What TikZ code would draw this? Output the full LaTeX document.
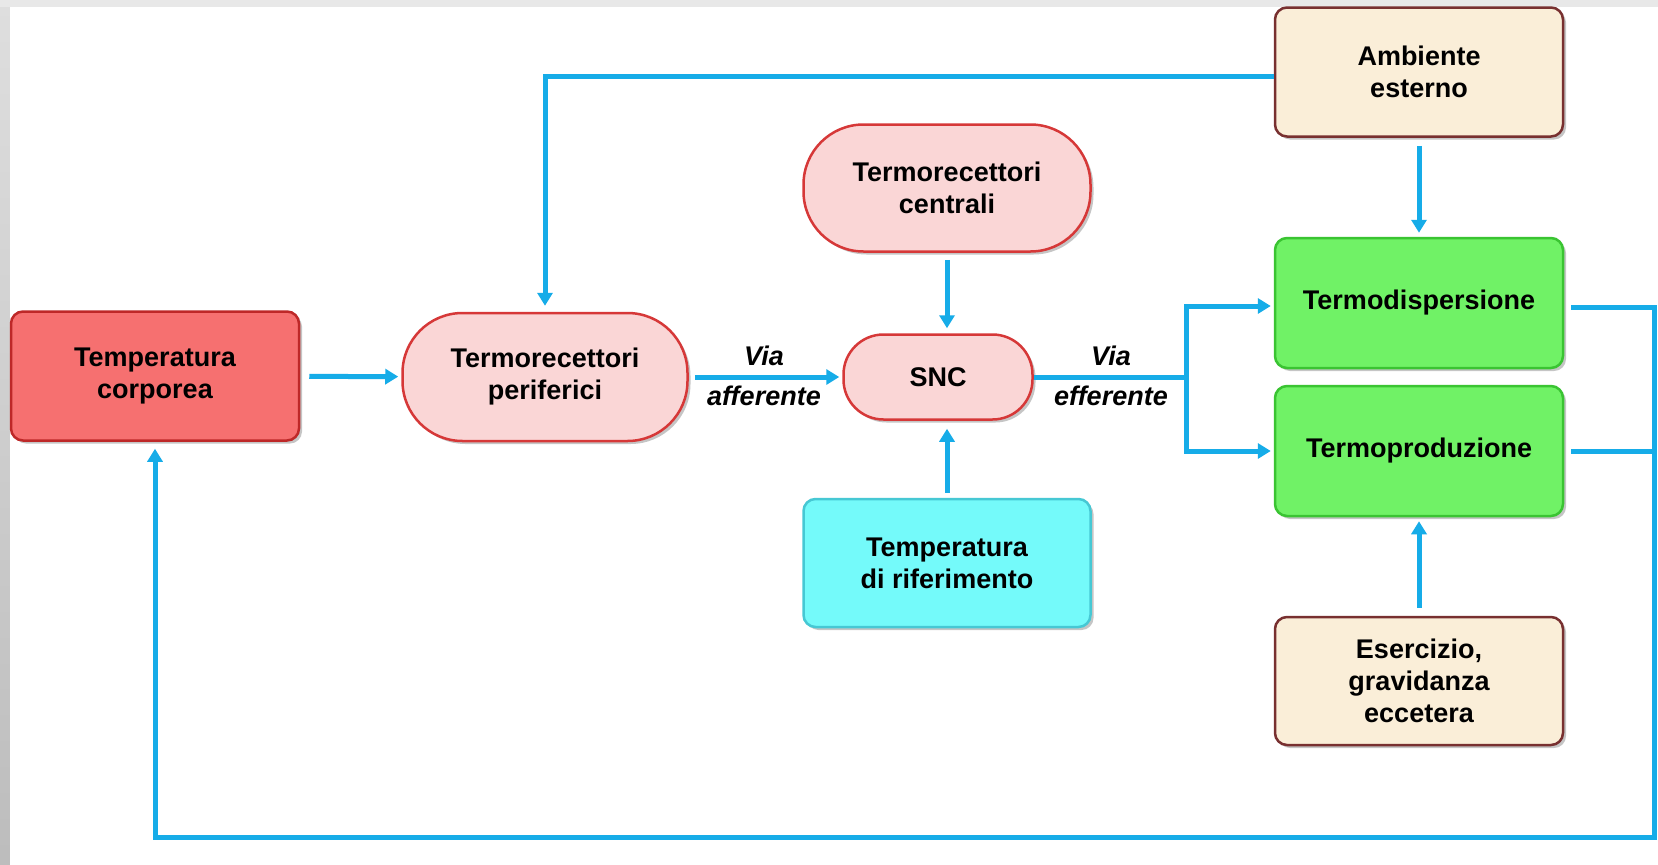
\documentclass[tikz,border=0pt]{standalone}
\usepackage{fontspec}
\setmainfont{Liberation Sans}
\usetikzlibrary{arrows.meta,shadows}

\definecolor{freccia}{RGB}{22,172,232}
\definecolor{rossoF}{RGB}{246,112,112}
\definecolor{rossoB}{RGB}{190,40,40}
\definecolor{rosaF}{RGB}{250,214,214}
\definecolor{rosaB}{RGB}{214,56,56}
\definecolor{cremaF}{RGB}{250,238,216}
\definecolor{cremaB}{RGB}{120,48,48}
\definecolor{verdeF}{RGB}{112,242,102}
\definecolor{verdeB}{RGB}{58,196,50}
\definecolor{cianoF}{RGB}{116,250,250}
\definecolor{cianoB}{RGB}{70,200,212}

\tikzset{
  box/.style={draw, line width=2.5pt, rounded corners=12pt, inner sep=0pt,
    minimum width=288pt, minimum height=129pt, align=center,
    font=\fontsize{27}{32}\selectfont\bfseries,
    drop shadow={shadow xshift=3pt, shadow yshift=-3pt, opacity=0.45}},
  pill/.style={box, rounded corners=60pt},
  lbl/.style={font=\fontsize{27}{32}\selectfont\bfseries\itshape, inner sep=0pt},
  conn/.style={draw=freccia, line width=5pt},
  arr/.style={conn, -{Triangle[length=13pt,width=15pt]}}
}

\begin{document}
\begin{tikzpicture}[x=1pt,y=-1pt]
\useasboundingbox (0,0) rectangle (1658,865);
\fill[black!9] (0,0) rectangle (1658,865);
\shade[top color=black!13, bottom color=black!26] (0,7) rectangle (10,865);
\fill[white] (10,7) rectangle (1658,865);

\node[box, fill=rossoF, draw=rossoB] (corporea) at (155,376) {Temperatura\\corporea};

\node[pill, fill=rosaF, draw=rosaB, minimum width=285pt, minimum height=128pt] (periferici) at (545,377) {Termorecettori\\periferici};

\node[pill, fill=rosaF, draw=rosaB, minimum width=189pt, minimum height=85pt, rounded corners=40pt] (snc) at (938,377) {SNC};

\node[pill, fill=rosaF, draw=rosaB, minimum width=287pt, minimum height=127pt] (centrali) at (947,188) {Termorecettori\\centrali};
\node[box, fill=cianoF, draw=cianoB, minimum width=287pt, minimum height=128pt] (riferimento) at (947,563) {Temperatura\\di riferimento};

\node[box, fill=cremaF, draw=cremaB] (ambiente) at (1419,72) {Ambiente\\esterno};
\node[box, fill=verdeF, draw=verdeB, minimum height=130pt] (dispersione) at (1419,303) {Termodispersione};
\node[box, fill=verdeF, draw=verdeB, minimum height=130pt] (produzione) at (1419,451) {Termoproduzione};
\node[box, fill=cremaF, draw=cremaB, minimum height=128pt] (esercizio) at (1419,681) {Esercizio,\\gravidanza\\eccetera};

\node[lbl] (viaA) at (764,356) {Via};
\node[lbl] (affA) at (764,396) {afferente};
\node[lbl] (viaE) at (1111,356) {Via};
\node[lbl] (effE) at (1111,396) {efferente};

\coordinate (split) at (1186,377);
\coordinate (loop) at (1654,837);

\draw[arr, shorten <=9pt, shorten >=3pt] (corporea) -- (periferici);
\draw[arr, shorten <=6pt, shorten >=3pt] (periferici) -- (snc);
\draw[arr, shorten <=7pt, shorten >=5pt] (centrali.south) -- (centrali.south |- snc.north);
\draw[arr, shorten <=5pt, shorten >=8pt] (riferimento.north) -- (riferimento.north |- snc.south);

\draw[conn] (snc.east) -- (split);
\draw[arr, shorten >=3pt] (split) |- ([yshift=-3pt]dispersione.west);
\draw[arr, shorten >=3pt] (split) |- (produzione.west);

\draw[arr, shorten <=8pt, shorten >=4pt] (ambiente) -- (dispersione);
\draw[arr, shorten <=8pt, shorten >=4pt] (esercizio) -- (produzione);

\draw[arr, shorten >=6pt] ([yshift=-4pt]ambiente.west) -| (periferici.north);

\draw[conn, shorten <=7pt] ([yshift=-4pt]dispersione.east) -| (loop);
\draw[arr, shorten <=7pt, shorten >=7pt] (produzione.east) -| (loop) -| (corporea.south);
\end{tikzpicture}
\end{document}
